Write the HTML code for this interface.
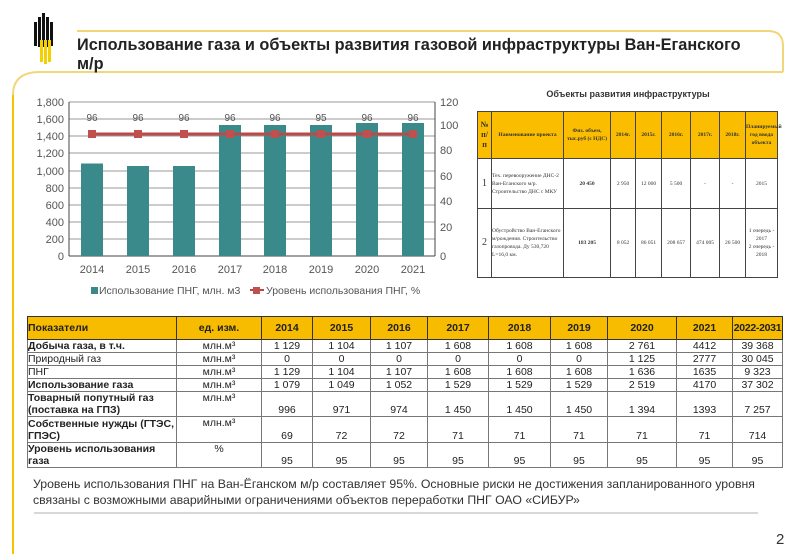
<!DOCTYPE html>
<html><head><meta charset="utf-8"><style>
body{margin:0;width:800px;height:554px;background:#fff;position:relative;overflow:hidden;font-family:"Liberation Sans",sans-serif}
.abs{position:absolute}
table{border-collapse:collapse;position:absolute;table-layout:fixed}
#t td{border:1px solid #777;font-size:10.5px;text-align:center;padding:0;color:#222;line-height:12px;overflow:hidden}
#t td.l{text-align:left}
#t tr.h td{background:#f7bc00;font-weight:bold;border-color:#333;white-space:nowrap}
#i td{border:1px solid #444;font-family:"Liberation Serif",serif;font-size:5.5px;text-align:center;padding:0;line-height:8px;color:#333}
#i tr.h td{background:#fbbd00;font-weight:bold}
</style></head><body>
<svg class="abs" style="left:0;top:0" width="800" height="554">
<path d="M77 31 L768 31 Q783 31 783 46 L783 72" fill="none" stroke="#f2d77a" stroke-width="2"/>
<path d="M13 554 L13 95 Q13 72 40 72 L783 72" fill="none" stroke="#f2d77a" stroke-width="2"/>
<line x1="13" y1="95" x2="13" y2="554" stroke="#f5c400" stroke-width="2"/>
<line x1="34" y1="513" x2="758" y2="513" stroke="#ccc" stroke-width="1.5"/>
<g fill="#111"><rect x="34" y="22" width="3" height="24"/><rect x="38" y="17" width="3" height="30"/><rect x="42" y="13" width="3" height="34"/><rect x="46" y="17" width="3" height="30"/><rect x="50" y="22" width="3" height="24"/></g>
<g fill="#f5d000"><rect x="40" y="40" width="3" height="22"/><rect x="44" y="40" width="3" height="24"/><rect x="48" y="40" width="3" height="22"/></g>
</svg>
<div class="abs" style="left:77px;top:36px;font-size:16.3px;font-weight:bold;color:#222;line-height:19px">Использование газа и объекты развития газовой инфраструктуры Ван-Еганского<br>м/р</div>
<svg class="abs" style="left:0;top:0" width="470" height="305" font-family="Liberation Sans" font-size="11" fill="#555">
<g stroke="#999" stroke-width="1">
<line x1="69" y1="102" x2="435" y2="102"/><line x1="69" y1="119" x2="435" y2="119"/><line x1="69" y1="136" x2="435" y2="136"/><line x1="69" y1="153" x2="435" y2="153"/><line x1="69" y1="171" x2="435" y2="171"/><line x1="69" y1="188" x2="435" y2="188"/><line x1="69" y1="205" x2="435" y2="205"/><line x1="69" y1="222" x2="435" y2="222"/><line x1="69" y1="239" x2="435" y2="239"/>
</g>
<g stroke="#444"><line x1="69" y1="102" x2="69" y2="256"/><line x1="435" y1="102" x2="435" y2="256"/><line x1="69" y1="256" x2="435" y2="256"/></g>
<g fill="#3b8a8b">
<rect x="81" y="163.5" width="22" height="92.5"/><rect x="127" y="166" width="22" height="90"/><rect x="173" y="166" width="22" height="90"/><rect x="219" y="125" width="22" height="131"/><rect x="264" y="125" width="22" height="131"/><rect x="310" y="125" width="22" height="131"/><rect x="356" y="123" width="22" height="133"/><rect x="402" y="123" width="22" height="133"/>
</g>
<polyline points="92,134 138,134 184,134 230,134 275,134 321,134 367,134 413,134" fill="none" stroke="#b84a4a" stroke-width="3"/>
<g fill="#c0504d"><rect x="88" y="130" width="8" height="8"/><rect x="134" y="130" width="8" height="8"/><rect x="180" y="130" width="8" height="8"/><rect x="226" y="130" width="8" height="8"/><rect x="271" y="130" width="8" height="8"/><rect x="317" y="130" width="8" height="8"/><rect x="363" y="130" width="8" height="8"/><rect x="409" y="130" width="8" height="8"/></g>
<g text-anchor="middle" font-size="10"><text x="92" y="121">96</text><text x="138" y="121">96</text><text x="184" y="121">96</text><text x="230" y="121">96</text><text x="275" y="121">96</text><text x="321" y="121">95</text><text x="367" y="121">96</text><text x="413" y="121">96</text></g>
<g text-anchor="end"><text x="64" y="106">1,800</text><text x="64" y="123">1,600</text><text x="64" y="140">1,400</text><text x="64" y="157">1,200</text><text x="64" y="175">1,000</text><text x="64" y="192">800</text><text x="64" y="209">600</text><text x="64" y="226">400</text><text x="64" y="243">200</text><text x="64" y="260">0</text></g>
<g><text x="440" y="106">120</text><text x="440" y="129">100</text><text x="440" y="154">80</text><text x="440" y="180">60</text><text x="440" y="205">40</text><text x="440" y="231">20</text><text x="440" y="260">0</text></g>
<g text-anchor="middle"><text x="92" y="273">2014</text><text x="138" y="273">2015</text><text x="184" y="273">2016</text><text x="230" y="273">2017</text><text x="275" y="273">2018</text><text x="321" y="273">2019</text><text x="367" y="273">2020</text><text x="413" y="273">2021</text></g>
<rect x="91" y="287" width="7" height="7" fill="#3b8a8b"/><text x="99" y="294" font-size="10.5">Использование ПНГ, млн. м3</text>
<line x1="250" y1="290" x2="264" y2="290" stroke="#b84a4a" stroke-width="2"/><rect x="253" y="287" width="7" height="7" fill="#c0504d"/><text x="266" y="294" font-size="10.5">Уровень использования ПНГ, %</text>
</svg>
<div class="abs" style="left:478px;top:89px;width:300px;text-align:center;font-size:9px;font-weight:bold;color:#333">Объекты развития инфраструктуры</div>
<table id="i" style="left:477px;top:111px;width:301px">
<tr class="h" style="height:47px"><td style="width:13px;font-size:8px;line-height:10px">№<br>п/<br>п</td><td style="width:71px">Наименование проекта</td><td style="width:46px">Физ. объем, тыс.руб (с НДС)</td><td style="width:24px">2014г.</td><td style="width:25px">2015г.</td><td style="width:28px">2016г.</td><td style="width:28px">2017г.</td><td style="width:25px">2018г.</td><td>Планируемый год ввода объекта</td></tr>
<tr style="height:50px"><td style="font-size:10px">1</td><td style="text-align:left">Тех. перевооружение ДНС-2 Ван-Еганского м/р. Строительство ДНС с МКУ</td><td><b>20 450</b></td><td>2 950</td><td>12 000</td><td>5 500</td><td>-</td><td>-</td><td>2015</td></tr>
<tr style="height:69px"><td style="font-size:10px">2</td><td style="text-align:left">Обустройство Ван-Еганского м/рождения. Строительство газопровода. Ду 530,720 L=16,0 км.</td><td><b>183 205</b></td><td>8 052</td><td>86 051</td><td>208 657</td><td>474 005</td><td>26 500</td><td>1 очередь - 2017<br>2 очередь - 2018</td></tr>
</table>
<table id="t" style="left:27px;top:316px;width:756px">
<tr class="h" style="height:23px"><td class="l" style="width:148px">Показатели</td><td style="width:84px">ед. изм.</td><td style="width:50px">2014</td><td style="width:57px">2015</td><td style="width:56px">2016</td><td style="width:60px">2017</td><td style="width:61px">2018</td><td style="width:56px">2019</td><td style="width:68px">2020</td><td style="width:55px">2021</td><td style="letter-spacing:-0.3px">2022-2031</td></tr>
<tr style="height:13px"><td class="l"><b>Добыча газа, в т.ч.</b></td><td>млн.м³</td><td>1 129</td><td>1 104</td><td>1 107</td><td>1 608</td><td>1 608</td><td>1 608</td><td>2 761</td><td>4412</td><td>39 368</td></tr>
<tr style="height:13px"><td class="l">Природный газ</td><td>млн.м³</td><td>0</td><td>0</td><td>0</td><td>0</td><td>0</td><td>0</td><td>1 125</td><td>2777</td><td>30 045</td></tr>
<tr style="height:13px"><td class="l">ПНГ</td><td>млн.м³</td><td>1 129</td><td>1 104</td><td>1 107</td><td>1 608</td><td>1 608</td><td>1 608</td><td>1 636</td><td>1635</td><td>9 323</td></tr>
<tr style="height:13px"><td class="l"><b>Использование газа</b></td><td>млн.м³</td><td>1 079</td><td>1 049</td><td>1 052</td><td>1 529</td><td>1 529</td><td>1 529</td><td>2 519</td><td>4170</td><td>37 302</td></tr>
<tr style="height:25px"><td class="l"><b>Товарный попутный газ (поставка на ГПЗ)</b></td><td style="vertical-align:top">млн.м³</td><td style="vertical-align:bottom">996</td><td style="vertical-align:bottom">971</td><td style="vertical-align:bottom">974</td><td style="vertical-align:bottom">1 450</td><td style="vertical-align:bottom">1 450</td><td style="vertical-align:bottom">1 450</td><td style="vertical-align:bottom">1 394</td><td style="vertical-align:bottom">1393</td><td style="vertical-align:bottom">7 257</td></tr>
<tr style="height:26px"><td class="l"><b>Собственные нужды (ГТЭС, ГПЭС)</b></td><td style="vertical-align:top">млн.м³</td><td style="vertical-align:bottom">69</td><td style="vertical-align:bottom">72</td><td style="vertical-align:bottom">72</td><td style="vertical-align:bottom">71</td><td style="vertical-align:bottom">71</td><td style="vertical-align:bottom">71</td><td style="vertical-align:bottom">71</td><td style="vertical-align:bottom">71</td><td style="vertical-align:bottom">714</td></tr>
<tr style="height:25px"><td class="l"><b>Уровень использования<br>газа</b></td><td style="vertical-align:top">%</td><td style="vertical-align:bottom">95</td><td style="vertical-align:bottom">95</td><td style="vertical-align:bottom">95</td><td style="vertical-align:bottom">95</td><td style="vertical-align:bottom">95</td><td style="vertical-align:bottom">95</td><td style="vertical-align:bottom">95</td><td style="vertical-align:bottom">95</td><td style="vertical-align:bottom">95</td></tr>
</table>
<div class="abs" style="left:33px;top:476px;font-size:12.3px;line-height:16px;color:#333">Уровень использования ПНГ на Ван-Ёганском м/р составляет 95%. Основные риски не достижения запланированного уровня<br>связаны с возможными аварийными ограничениями объектов переработки ПНГ ОАО «СИБУР»</div>
<div class="abs" style="left:776px;top:531px;font-size:15px;color:#333">2</div>
</body></html>
